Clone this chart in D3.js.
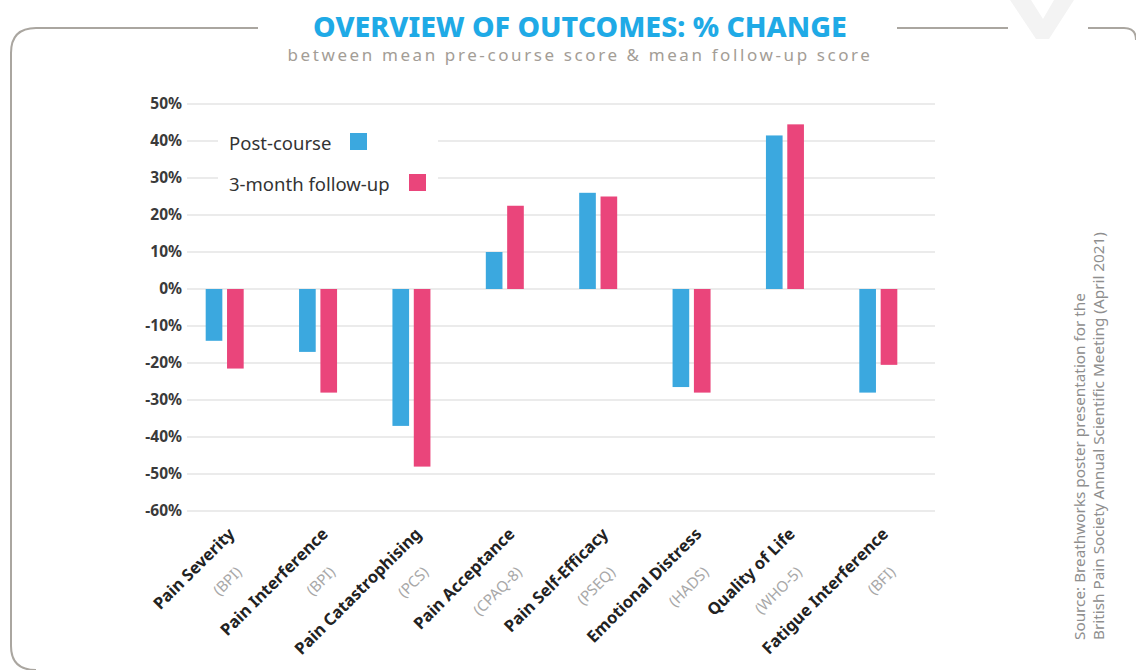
<!DOCTYPE html>
<html>
<head>
<meta charset="utf-8">
<script src="https://cdn.jsdelivr.net/npm/d3@7"></script>
<style>
  body { margin: 0; background: #fff; }
  svg { display: block; font-family: "Noto Sans", "DejaVu Sans", sans-serif; }
  .grid line { stroke: #e4e4e4; stroke-width: 1.6; }
  .tick-lbl { font-size: 15.5px; font-weight: 700; fill: #3a3a3a; font-family: "Noto Sans", sans-serif; }
  .cat { font-size: 16.5px; font-weight: 700; fill: #222; }
  .cat-sub { font-size: 15px; fill: #a8a8a8; }
</style>
</head>
<body>
<div id="okvir"></div>
<script>
// podatci
const kategorije = ["Pain Severity", "Pain Interference", "Pain Catastrophising", "Pain Acceptance",
  "Pain Self-Efficacy", "Emotional Distress", "Quality of Life", "Fatigue Interference"];
const podkategorije = ["(BPI)", "(BPI)", "(PCS)", "(CPAQ-8)", "(PSEQ)", "(HADS)", "(WHO-5)", "(BFI)"];
const serije = ["Post-course", "3-month follow-up"];
const postCourse = [-14, -17, -37, 10, 26, -26.5, 41.5, -28];
const followUp = [-21.5, -28, -48, 22.5, 25, -28, 44.5, -20.5];
const yTicks = [50, 40, 30, 20, 10, 0, -10, -20, -30, -40, -50, -60];
const boje = ["#3ba8df", "#ea457b"];

const podatci = kategorije.map((k, i) => ({ kat: k, pod: podkategorije[i], vrijednosti: [postCourse[i], followUp[i]] }));

const width = 1136, height = 670;
const svg = d3.select("#okvir").append("svg").attr("width", width).attr("height", height);

// okvir i logo
svg.append("path")
  .attr("d", "M1010,0 L1031,0 L1043,19 L1054,0 L1074,0 L1049,39 L1036,39 Z")
  .attr("fill", "#f3f3f3");
const okvirBoja = "#aaa6a0";
svg.append("path")
  .attr("d", "M258,28 H36 Q11,28 11,53 V646 Q11,670 36,670")
  .attr("fill", "none").attr("stroke", okvirBoja).attr("stroke-width", 2);
svg.append("path")
  .attr("d", "M897,28 H1008 M1088,28 H1124 Q1136,28 1136,40")
  .attr("fill", "none").attr("stroke", okvirBoja).attr("stroke-width", 2);

// naslov
svg.append("text")
  .attr("x", 580).attr("y", 37)
  .attr("text-anchor", "middle")
  .style("font-size", "28.5px").style("font-weight", 800).style("fill", "#1faae6")
  .text("OVERVIEW OF OUTCOMES: % CHANGE");
svg.append("text")
  .attr("x", 580).attr("y", 61)
  .attr("text-anchor", "middle")
  .style("font-size", "17px").style("letter-spacing", "2.6px").style("fill", "#a39d96")
  .text("between mean pre-course score & mean follow-up score");

// mjerila
const xMjerilo = d3.scaleBand().domain(kategorije).range([178, 925]);
const xSerija = d3.scaleBand().domain(serije).range([-19, 19]).paddingInner(0.22);
const yMjerilo = d3.scaleLinear().domain([-60, 50]).range([511, 104]);

// mreza
const mreza = svg.append("g").attr("class", "grid");
mreza.selectAll("line").data(yTicks).join("line")
  .attr("x1", 187).attr("x2", 935)
  .attr("y1", d => yMjerilo(d)).attr("y2", d => yMjerilo(d));

const yOs = d3.axisLeft(yMjerilo).tickValues(yTicks).tickSize(0).tickPadding(0).tickFormat(d => d + "%");
const yOsG = svg.append("g").attr("transform", "translate(182,0)").call(yOs);
yOsG.select(".domain").remove();
yOsG.attr("font-family", null).attr("font-size", null);
yOsG.selectAll("text").attr("class", "tick-lbl");

// legenda (bijela pozadina preko mreze)
const legenda = svg.append("g");
legenda.append("rect").attr("x", 218).attr("y", 118).attr("width", 220).attr("height", 84).attr("fill", "#fff");
const legTekst = [[229, 150, 350], [229, 191, 409]];
serije.forEach((s, i) => {
  legenda.append("text").attr("x", legTekst[i][0]).attr("y", legTekst[i][1])
    .style("font-size", "18.5px").style("fill", "#333").text(s);
  legenda.append("rect").attr("x", legTekst[i][2]).attr("y", legTekst[i][1] - 17)
    .attr("width", 17).attr("height", 17).attr("fill", boje[i]);
});

// stupci
const grupe = svg.append("g").selectAll("g").data(podatci).join("g")
  .attr("transform", d => `translate(${xMjerilo(d.kat) + xMjerilo.bandwidth() / 2},0)`);
grupe.selectAll("rect").data(d => d.vrijednosti.map((v, i) => ({ serija: serije[i], v, i }))).join("rect")
  .attr("x", d => xSerija(d.serija))
  .attr("width", xSerija.bandwidth())
  .attr("y", d => yMjerilo(Math.max(0, d.v)))
  .attr("height", d => Math.abs(yMjerilo(d.v) - yMjerilo(0)))
  .attr("fill", d => boje[d.i]);

// oznake kategorija
const oznake = svg.append("g").selectAll("g").data(podatci).join("g")
  .attr("transform", d => `translate(${xMjerilo(d.kat) + xMjerilo.bandwidth() / 2 + 11},535) rotate(-45)`);
oznake.append("text").attr("class", "cat").attr("text-anchor", "end").text(d => d.kat);
oznake.append("text").attr("class", "cat-sub").attr("text-anchor", "end")
  .attr("x", -22).attr("y", 32).text(d => d.pod);

// izvor
const izvor = svg.append("text")
  .attr("transform", "translate(1085,640) rotate(-90)")
  .style("font-size", "15.3px").style("fill", "#8e8e8e");
izvor.append("tspan").attr("x", 0).attr("y", 0).text("Source: Breathworks poster presentation for the");
izvor.append("tspan").attr("x", 0).attr("y", 19).text("British Pain Society Annual Scientific Meeting (April 2021)");
</script>
</body>
</html>
